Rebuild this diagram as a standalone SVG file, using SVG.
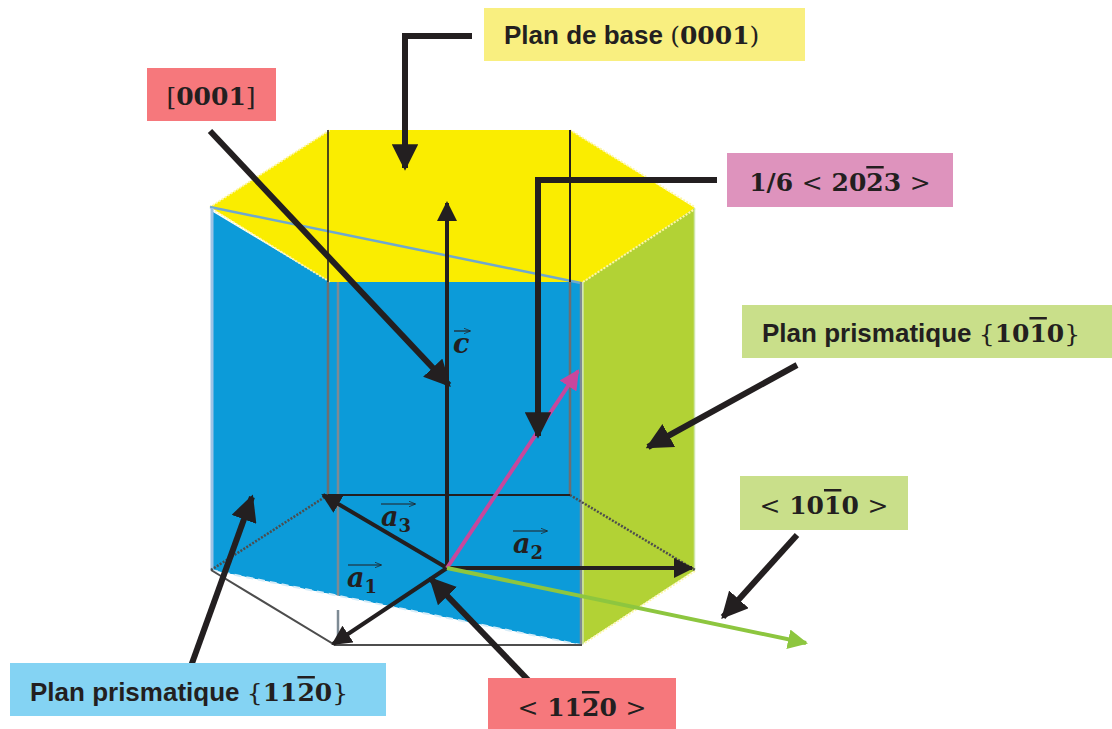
<svg xmlns="http://www.w3.org/2000/svg" width="1112" height="729" viewBox="0 0 1112 729">
<style>
.sans{font-family:"Liberation Sans",Arial,sans-serif;font-weight:bold;font-size:26px;fill:#231f20}
.math{font-family:"DejaVu Serif","Liberation Serif",serif;font-weight:bold;font-size:25px;fill:#231f20}
.thin{font-weight:normal}
.vec{font-family:"DejaVu Serif","Liberation Serif",serif;font-style:italic;font-weight:bold;font-size:27px;fill:#231f20}
.sub{font-style:normal;font-size:18px}
.call{fill:none;stroke:#231f20;stroke-width:6}
.ax{fill:none;stroke:#231f20;stroke-width:4}
.edge{fill:none;stroke:#4d4d4d;stroke-width:2}
.vbar{fill:none;stroke:#231f20;stroke-width:1.2}
</style>
<defs>
<marker id="h" viewBox="0 0 10 10" refX="9" refY="5" markerWidth="4.4" markerHeight="4.4" orient="auto" markerUnits="strokeWidth"><path d="M0 0L10 5L0 10Z" fill="#231f20"/></marker>
<marker id="hs" viewBox="0 0 10 10" refX="9" refY="5" markerWidth="5" markerHeight="5" orient="auto" markerUnits="strokeWidth"><path d="M0 0L10 5L0 10Z" fill="#231f20"/></marker>
<marker id="hm" viewBox="0 0 10 10" refX="9" refY="5" markerWidth="5" markerHeight="5" orient="auto" markerUnits="strokeWidth"><path d="M0 0L10 5L0 10Z" fill="#c8479c"/></marker>
<marker id="hg" viewBox="0 0 10 10" refX="9" refY="5" markerWidth="5" markerHeight="5" orient="auto" markerUnits="strokeWidth"><path d="M0 0L10 5L0 10Z" fill="#8dc63f"/></marker>
<marker id="ht" viewBox="0 0 10 10" refX="9" refY="5" markerWidth="6" markerHeight="6" orient="auto" markerUnits="strokeWidth"><path d="M0 1L10 5L0 9" fill="none" stroke="#231f20"/></marker>
</defs>
<rect width="1112" height="729" fill="#fff"/>
<g id="crystal">
<polygon points="330,130 570,130 695,208 583,282 330,282 210,207" fill="#faed00"/>
<polygon points="213,212 330,282 582,282 582,645 211,570" fill="#0c9bd9"/>
<polygon points="583,282 695,208 695,570 582,644" fill="#b2d235"/>
<path d="M210,207L330,130M570,130L695,207M583,282L695,209M212,209L330,282M695,571L583,644" fill="none" stroke="#fdf6a8" stroke-width="2" stroke-dasharray="2 1.5"/>
<path d="M210,207L581,283" fill="none" stroke="#6fa8cf" stroke-width="2.5"/>
<path d="M212,208V570" fill="none" stroke="#9dc3e6" stroke-width="3"/>
<path d="M328,130V495" fill="none" stroke="#231f20" stroke-width="1.6"/>
<path d="M570,130V282" fill="none" stroke="#231f20" stroke-width="2"/>
<path d="M328,282V495M570,282V495" fill="none" stroke="#6d6e71" stroke-width="2.5"/>
<path d="M338,282V645M581,282V645" fill="none" stroke="#7d8a94" stroke-width="2.5"/>
<path d="M583,282V644" fill="none" stroke="#cfe6a8" stroke-width="1.5"/>
<path d="M694.500,208V570" fill="none" stroke="#cfe6a8" stroke-width="1.5"/>
<polygon points="211,570 335,645 581,645" fill="#fff"/>
<path d="M338,610V645" fill="none" stroke="#7d8a94" stroke-width="2.5"/>
<path d="M211,570L581,645" fill="none" stroke="#d6ecf8" stroke-width="2" stroke-dasharray="7 5"/>
<path d="M211,570L335,645H582" class="edge"/>
<path d="M211,570L328,495M570,495L695,570" fill="none" stroke="#4d4d4d" stroke-width="2.5" stroke-dasharray="2 1.500"/>
<path d="M328,495H570" fill="none" stroke="#231f20" stroke-width="2"/>
</g>
<g id="connectors">
<path class="ax" d="M447,568V203" marker-end="url(#hs)"/>
<path class="ax" d="M447,568L333,644" marker-end="url(#hs)"/>
<path class="ax" d="M447,568H692" marker-end="url(#hs)"/>
<path class="ax" d="M447,568L323,495" marker-end="url(#hs)"/>
<path d="M447,568L578,371" fill="none" stroke="#c8479c" stroke-width="4" marker-end="url(#hm)"/>
<path d="M447,568L806,643" fill="none" stroke="#8dc63f" stroke-width="4" marker-end="url(#hg)"/>
<path class="call" d="M472,36H405V168" marker-end="url(#h)"/>
<path class="call" d="M210,131L449,385" marker-end="url(#h)"/>
<path class="call" d="M717,180H538V436" marker-end="url(#h)"/>
<path class="call" d="M797,365L648,447" marker-end="url(#h)"/>
<path class="call" d="M797,535L723,617" marker-end="url(#h)"/>
<path class="call" d="M530,682L431,579" marker-end="url(#h)"/>
<path class="call" d="M191,666L252,497" marker-end="url(#h)"/>
</g>
<g id="label-base"><rect x="484" y="8" width="321" height="53" fill="#f9ef80"/>
<text x="504" y="44" class="sans">Plan de base <tspan class="math"><tspan class="thin">(</tspan>0001<tspan class="thin">)</tspan></tspan></text></g>
<g id="label-0001"><rect x="147" y="68" width="129" height="53" fill="#f6787c"/>
<text x="211" y="105" class="math" text-anchor="middle"><tspan class="thin">[</tspan>0001<tspan class="thin">]</tspan></text></g>
<g id="label-2023"><rect x="727" y="153" width="226" height="54" fill="#de93bd"/>
<text x="840" y="191" class="math" text-anchor="middle">1/6 <tspan class="thin">&lt;</tspan> 20<tspan text-decoration="overline">2</tspan>3 <tspan class="thin">&gt;</tspan></text></g>
<g id="label-prism-1010"><rect x="742" y="305" width="370" height="53" fill="#c9df8a"/>
<text x="762" y="342" class="sans">Plan prismatique <tspan class="math"><tspan class="thin">{</tspan>10<tspan text-decoration="overline">1</tspan>0<tspan class="thin">}</tspan></tspan></text></g>
<g id="label-1010"><rect x="740" y="476" width="168" height="54" fill="#c9df8a"/>
<text x="824" y="514" class="math" text-anchor="middle"><tspan class="thin">&lt;</tspan> 10<tspan text-decoration="overline">1</tspan>0 <tspan class="thin">&gt;</tspan></text></g>
<g id="label-1120"><rect x="488" y="678" width="188" height="51" fill="#f6787c"/>
<text x="582" y="716" class="math" text-anchor="middle"><tspan class="thin">&lt;</tspan> 11<tspan text-decoration="overline">2</tspan>0 <tspan class="thin">&gt;</tspan></text></g>
<g id="label-prism-1120"><rect x="10" y="663" width="376" height="53" fill="#84d3f3"/>
<text x="30" y="701" class="sans">Plan prismatique <tspan class="math"><tspan class="thin">{</tspan>11<tspan text-decoration="overline">2</tspan>0<tspan class="thin">}</tspan></tspan></text></g>
<g id="vec-c"><text x="453" y="353" class="vec">c</text><path class="vbar" d="M454,331H470" marker-end="url(#ht)"/></g>
<g id="vec-a1"><text x="347" y="587" class="vec">a<tspan class="sub" dy="6">1</tspan></text><path class="vbar" d="M348,565H381" marker-end="url(#ht)"/></g>
<g id="vec-a2"><text x="513" y="553" class="vec">a<tspan class="sub" dy="6">2</tspan></text><path class="vbar" d="M513,531H547" marker-end="url(#ht)"/></g>
<g id="vec-a3"><text x="381" y="526" class="vec">a<tspan class="sub" dy="6">3</tspan></text><path class="vbar" d="M381,504H415" marker-end="url(#ht)"/></g>
</svg>
